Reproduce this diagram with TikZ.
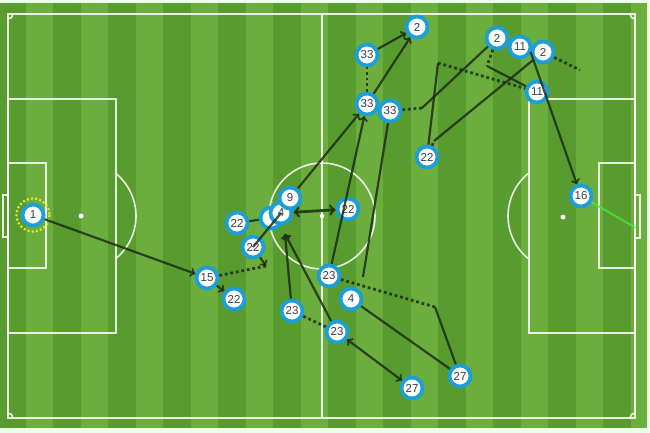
\documentclass[tikz,border=0pt]{standalone}
\usepackage{fontspec}
\setmainfont{Liberation Sans}
\usepackage{xcolor}
\usepackage{tikz}
\usetikzlibrary{shapes, arrows, positioning}

\definecolor{turf}{RGB}{108,174,62}
\definecolor{turfdark}{RGB}{88,155,46}
\definecolor{ring}{RGB}{28,158,214}
\definecolor{chalk}{RGB}{30,45,22}
\definecolor{numgrey}{RGB}{60,60,72}
\definecolor{keeper}{RGB}{240,226,40}
\definecolor{shot}{RGB}{70,235,60}

\begin{document}
\begin{tikzpicture}[x=1pt, y=-1pt,
    player/.style={draw=ring, fill=white, circle, line width=3.8pt, minimum size=21pt, inner sep=0pt, text=numgrey, font=\fontsize{11.5}{11.5}\selectfont},
    pass/.style={draw=chalk, line width=2.2pt, opacity=0.85},
    carry/.style={draw=chalk, line width=2.8pt, dash pattern=on 2.8pt off 2.8pt, opacity=0.85},
    pitchline/.style={draw=white, line width=1.6pt, opacity=0.85}]

    \fill[white!92!green] (0,0) rectangle (650,433);
    \useasboundingbox (0,0) rectangle (650,433);
    \fill[turf] (0,3) rectangle (647,428);
    \begin{scope}
        \clip (0,3) rectangle (647,428);
        \foreach \s in {0,...,11}
            \fill[turfdark] ({-2+55*\s},3) rectangle ++(27.5,425);
    \end{scope}

    % pitch markings
    \draw[pitchline] (8,14) rectangle (635,418);
    \draw[pitchline] (322,14) -- (322,418);
    \draw[pitchline] (322,216) circle (53);
    \draw[pitchline] (8,99) rectangle (116,333);
    \draw[pitchline] (8,163) rectangle (46,268);
    \draw[pitchline] (3,195) rectangle (8,237);
    \draw[pitchline] (635,99) rectangle (529,333);
    \draw[pitchline] (635,163) rectangle (599,268);
    \draw[pitchline] (635,195) rectangle (640,238);
    \draw[pitchline] (81,216) ++(-50.5:55) arc (-50.5:50.5:55);
    \draw[pitchline] (563,216) ++(129.5:55) arc (129.5:230.5:55);
    \draw[pitchline] (13,14) arc (0:90:5);
    \draw[pitchline] (630,14) arc (180:90:5);
    \draw[pitchline] (13,418) arc (0:-90:5);
    \draw[pitchline] (630,418) arc (180:270:5);
    \fill[white] (322,216) circle (2.2);
    \fill[white] (81,216) circle (2.5);
    \fill[white] (563,217) circle (2.5);

    \node [player] (p1) at (33,215) {1};
    \node [player] (p15) at (207,278) {15};
    \node [player] (p22a) at (234,299) {22};
    \node [player] (p22b) at (237,223) {22};
    \node [player] (p22c) at (253,247) {22};
    \node [player] (px) at (271,218) {};
    \node [player] (p4a) at (281,213) {4};
    \node [player] (p9) at (290,198) {9};
    \node [player] (p22d) at (348,209) {22};
    \node [player] (p23a) at (329,276) {23};
    \node [player] (p4b) at (351,299) {4};
    \node [player] (p23b) at (292,311) {23};
    \node [player] (p23c) at (337,332) {23};
    \node [player] (p27a) at (412,388) {27};
    \node [player] (p27b) at (460,376) {27};
    \node [player] (p33a) at (367,55) {33};
    \node [player] (p2a) at (417,27) {2};
    \node [player] (p33b) at (367,104) {33};
    \node [player] (p33c) at (390,111) {33};
    \node [player] (p22e) at (427,157) {22};
    \node [player] (p2b) at (497,38) {2};
    \node [player] (p11a) at (520,47) {11};
    \node [player] (p2c) at (543,52) {2};
    \node [player] (p11b) at (537,92) {11};
    \node [player] (p16) at (581,196) {16};

    \draw[keeper, line width=2.2pt, dash pattern=on 2pt off 2.2pt] (p1.center) circle (16.5);

    \coordinate (d1) at (266,266);
    \coordinate (e1) at (422,108);
    \coordinate (e2) at (363,277);
    \coordinate (e3) at (435,307);
    \coordinate (tip4) at (285,234);
    \coordinate (f1) at (438,63);
    \coordinate (f2) at (434,141);
    \coordinate (f3) at (487,66);
    \coordinate (f4) at (580,70);
    \coordinate (g1) at (636,228);

    \draw [pass, ->] (p1) -- (p15);
    \draw [pass, ->] (p15) -- (p22a);
    \draw [pass, ->] (p22c) -- (d1);
    \draw [carry] (d1) -- (p15);
    \draw [pass] (p22b) -- (px);
    \draw [pass] (p22c.center) -- (p4a.center);
    \draw [pass, <->, line width=2.8pt] (p4a) -- (p22d);
    \draw [pass, ->] (p9) -- (p33b);
    \draw [pass, ->] (p23a) -- (p33b);
    \draw [carry] (p33b) -- (p33a);
    \draw [pass, ->] (p33a) -- (p2a);
    \draw [pass, ->] (p33b) -- (p2a);
    \draw [carry] (p33c) -- (e1);
    \draw [pass] (e1) -- (p2b);
    \draw [pass] (e2) -- (p33c);
    \draw [carry] (p23a) -- (e3);
    \draw [pass] (e3) -- (p27b);
    \draw [pass] (p4b) -- (p27b);
    \draw [pass, <->] (p23c) -- (p27a);
    \draw [pass, ->] (p23b) -- (tip4);
    \draw [pass, ->] (p23c) -- (tip4);
    \draw [carry] (p23b) -- (p23c);
    \draw [pass] (p22e) -- (f1);
    \draw [carry] (f1) -- (p11b);
    \draw [carry] (p22e) -- (f2);
    \draw [pass] (f2) -- (p2c);
    \draw [carry] (p2b) -- (f3);
    \draw [pass] (f3) -- (p11b);
    \draw [carry] (p2c) -- (f4);
    \draw [pass, ->] (p2c.west) -- (p16);
    \draw [shot, line width=1.8pt, opacity=0.8] (p16) -- (g1);
\end{tikzpicture}
\end{document}
